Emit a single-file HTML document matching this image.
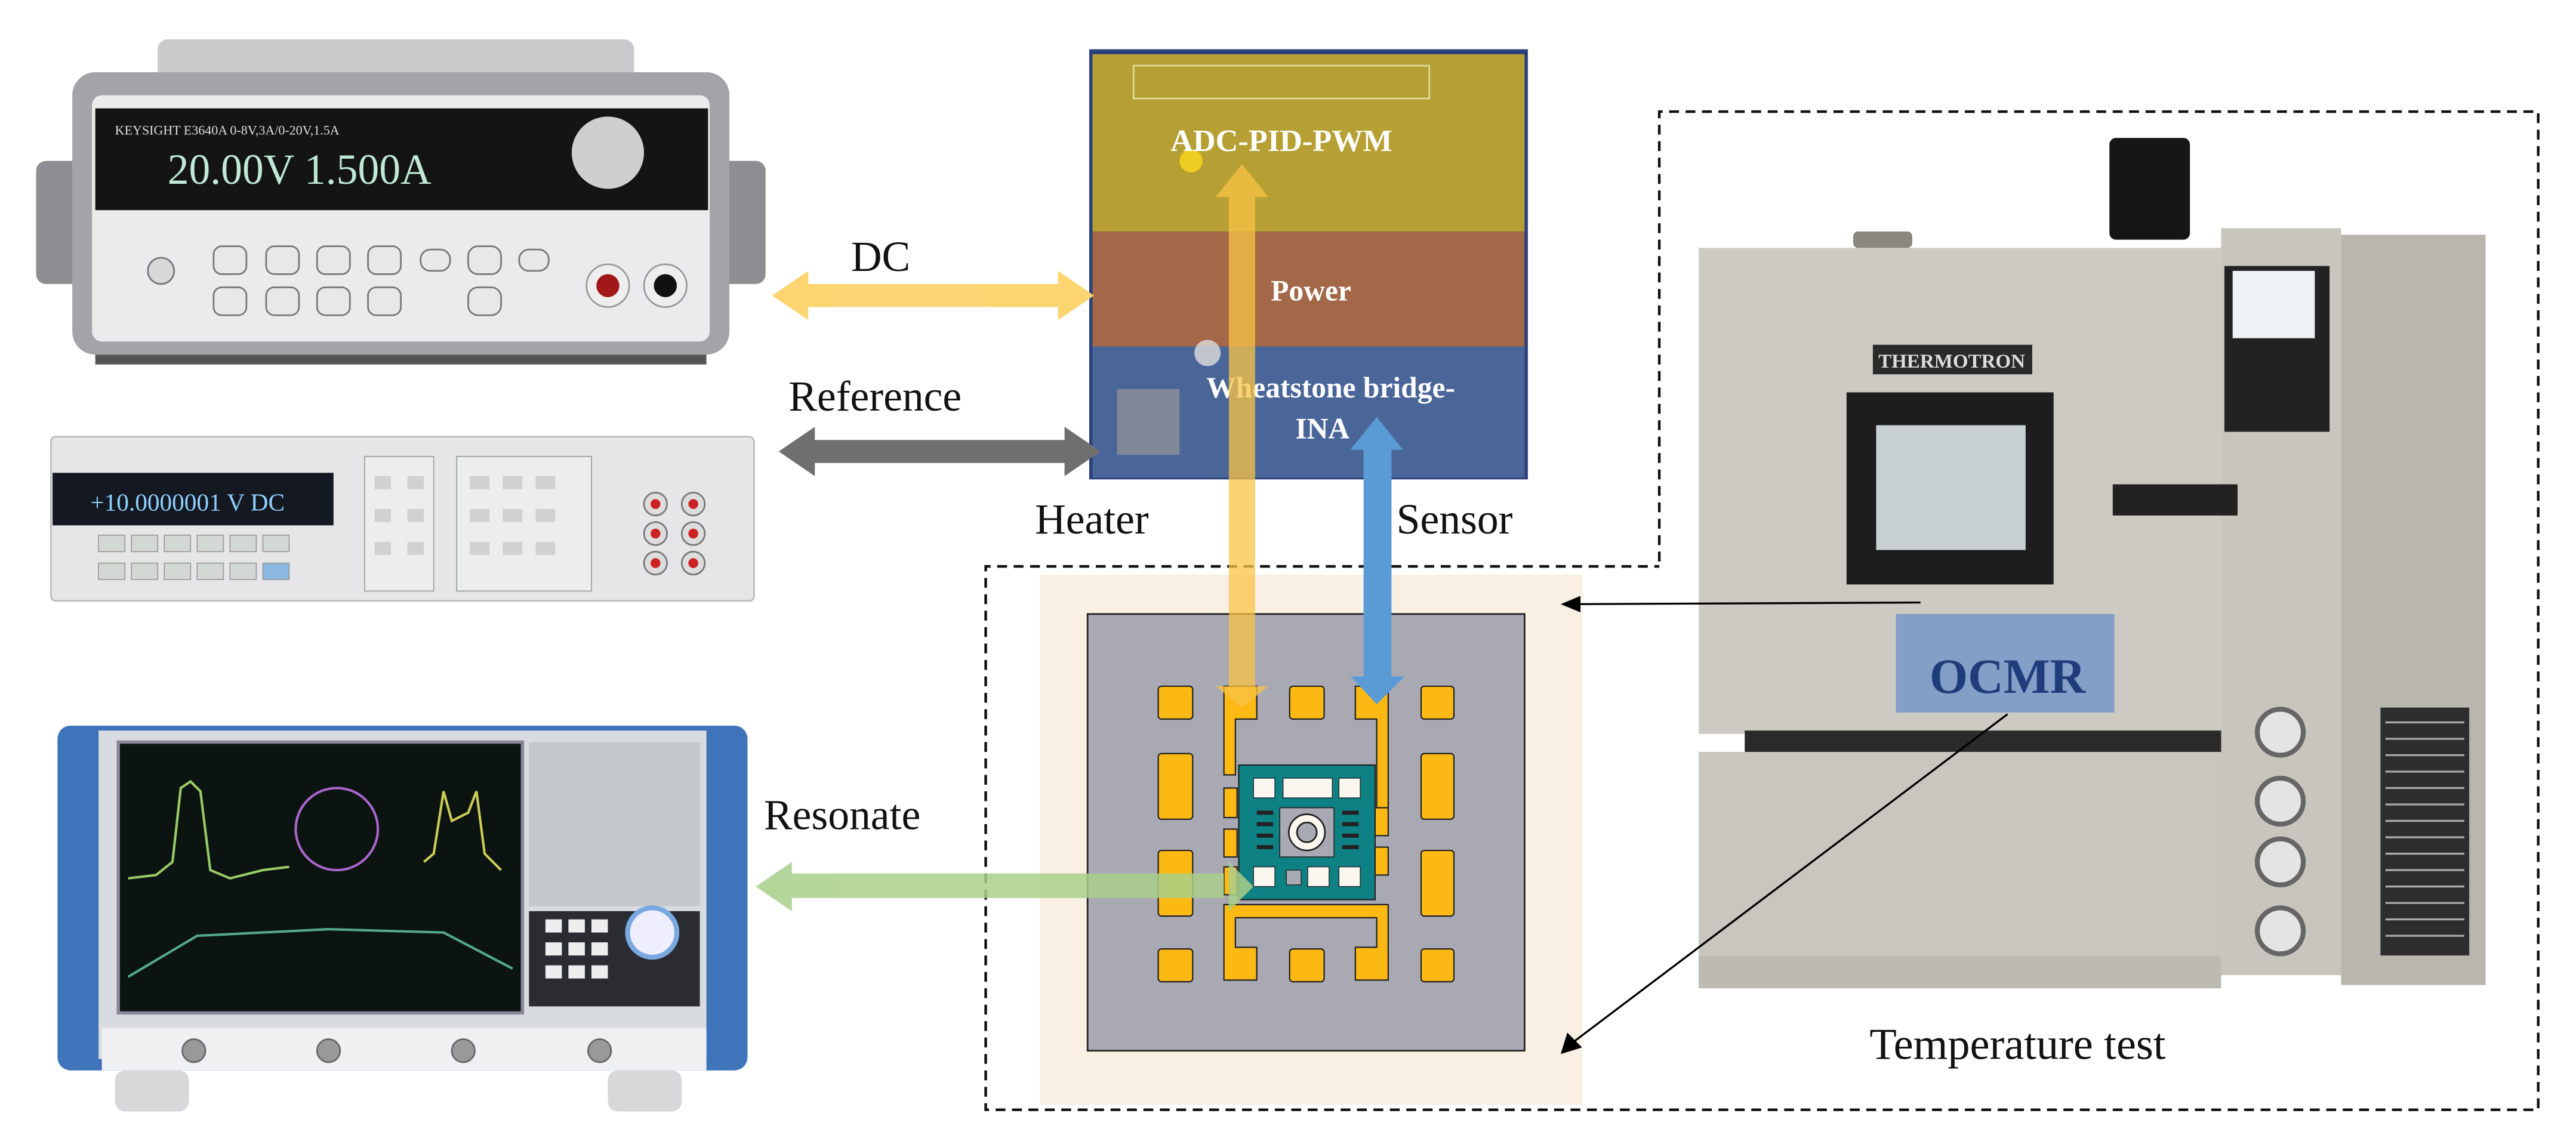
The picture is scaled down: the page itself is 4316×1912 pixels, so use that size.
<!DOCTYPE html>
<html><head><meta charset="utf-8"><style>
html,body{margin:0;padding:0;background:#fff;}
svg{display:block;}
text{font-family:"Liberation Serif",serif;}
</style></head><body>
<svg width="4316" height="1912" viewBox="0 0 1568 695" preserveAspectRatio="none" xmlns="http://www.w3.org/2000/svg">
<rect width="1568" height="695" fill="#fff"/>

<!-- Power supply -->
<rect x="22" y="98" width="30" height="75" rx="6" fill="#8e8e92"/>
<rect x="436" y="98" width="30" height="75" rx="6" fill="#8e8e92"/>
<rect x="96" y="24" width="290" height="28" rx="6" fill="#cacacc"/>
<rect x="44" y="44" width="400" height="172" rx="14" fill="#a4a4a8"/>
<rect x="56" y="58" width="376" height="150" rx="6" fill="#ebebed"/>
<rect x="58" y="66" width="373" height="62" fill="#141414"/>
<text x="70" y="82" font-size="8" fill="#ddd" font-family="Liberation Sans,sans-serif">KEYSIGHT   E3640A  0-8V,3A/0-20V,1.5A</text>
<text x="102" y="112" font-size="26" fill="#bfe8d8" font-family="Liberation Mono,monospace">20.00V 1.500A</text>
<circle cx="370" cy="93" r="22" fill="#cfcfd0"/>
<circle cx="98" cy="165" r="8" fill="#d8d8d8" stroke="#777"/>
<g fill="#e8e8ea" stroke="#777">
<rect x="130" y="150" width="20" height="17" rx="5"/><rect x="162" y="150" width="20" height="17" rx="5"/><rect x="193" y="150" width="20" height="17" rx="5"/><rect x="224" y="150" width="20" height="17" rx="5"/><rect x="256" y="152" width="18" height="13" rx="6"/><rect x="285" y="150" width="20" height="17" rx="6"/><rect x="316" y="152" width="18" height="13" rx="6"/>
<rect x="130" y="175" width="20" height="17" rx="5"/><rect x="162" y="175" width="20" height="17" rx="5"/><rect x="193" y="175" width="20" height="17" rx="5"/><rect x="224" y="175" width="20" height="17" rx="5"/><rect x="285" y="175" width="20" height="17" rx="6"/></g>
<circle cx="370" cy="174" r="13" fill="#eee" stroke="#999"/><circle cx="370" cy="174" r="7" fill="#a01818"/>
<circle cx="405" cy="174" r="13" fill="#eee" stroke="#999"/><circle cx="405" cy="174" r="7" fill="#111"/>
<rect x="58" y="216" width="372" height="6" fill="#555"/>

<!-- Multimeter -->
<rect x="31" y="266" width="428" height="100" rx="3" fill="#e6e6e8" stroke="#bbb"/>
<rect x="32" y="288" width="171" height="32" fill="#141820"/>
<text x="55" y="311" font-size="15" fill="#8fd0ff" font-family="Liberation Mono,monospace">+10.0000001 V DC</text>
<g fill="#d4d8d4" stroke="#999" stroke-width="0.6">
<rect x="60" y="326" width="16" height="10"/><rect x="80" y="326" width="16" height="10"/><rect x="100" y="326" width="16" height="10"/><rect x="120" y="326" width="16" height="10"/><rect x="140" y="326" width="16" height="10"/><rect x="160" y="326" width="16" height="10"/>
<rect x="60" y="343" width="16" height="10"/><rect x="80" y="343" width="16" height="10"/><rect x="100" y="343" width="16" height="10"/><rect x="120" y="343" width="16" height="10"/><rect x="140" y="343" width="16" height="10"/><rect x="160" y="343" width="16" height="10" fill="#8bb8e0"/>
<rect x="222" y="278" width="42" height="82" fill="#eceeec"/><rect x="278" y="278" width="82" height="82" fill="#eceeec"/></g>
<g fill="#cfd2cf"><rect x="228" y="290" width="10" height="8"/><rect x="248" y="290" width="10" height="8"/><rect x="228" y="310" width="10" height="8"/><rect x="248" y="310" width="10" height="8"/><rect x="228" y="330" width="10" height="8"/><rect x="248" y="330" width="10" height="8"/>
<rect x="286" y="290" width="12" height="8"/><rect x="306" y="290" width="12" height="8"/><rect x="326" y="290" width="12" height="8"/><rect x="286" y="310" width="12" height="8"/><rect x="306" y="310" width="12" height="8"/><rect x="326" y="310" width="12" height="8"/><rect x="286" y="330" width="12" height="8"/><rect x="306" y="330" width="12" height="8"/><rect x="326" y="330" width="12" height="8"/></g>
<g fill="#ddd" stroke="#777"><circle cx="399" cy="307" r="7"/><circle cx="422" cy="307" r="7"/><circle cx="399" cy="325" r="7"/><circle cx="422" cy="325" r="7"/><circle cx="399" cy="343" r="7"/><circle cx="422" cy="343" r="7"/></g>
<g fill="#c22"><circle cx="399" cy="307" r="3"/><circle cx="422" cy="307" r="3"/><circle cx="399" cy="325" r="3"/><circle cx="422" cy="325" r="3"/><circle cx="399" cy="343" r="3"/><circle cx="422" cy="343" r="3"/></g>

<!-- Network analyzer -->
<rect x="35" y="442" width="420" height="210" rx="8" fill="#3f74bb"/>
<rect x="60" y="445" width="370" height="200" fill="#d8dbe0"/>
<rect x="72" y="452" width="246" height="165" fill="#0c1411" stroke="#889" stroke-width="2"/>
<polyline points="78,535 95,533 105,525 110,480 116,476 122,482 128,530 140,535 160,530 176,528" stroke="#9c6" fill="none" stroke-width="1.5"/>
<polyline points="258,525 264,520 270,482 275,500 285,495 290,482 295,520 305,530" stroke="#cc5" fill="none" stroke-width="1.5"/>
<circle cx="205" cy="505" r="25" fill="none" stroke="#a6c" stroke-width="1.5"/>
<polyline points="78,595 120,570 200,566 270,568 312,590" stroke="#5a8" fill="none" stroke-width="1.5"/>
<rect x="322" y="452" width="104" height="100" fill="#c5c8cd"/>
<rect x="322" y="555" width="104" height="58" fill="#2a2c31"/>
<circle cx="397" cy="568" r="15" fill="#eef" stroke="#7aa8e0" stroke-width="3"/>
<g fill="#eee"><rect x="332" y="560" width="10" height="8"/><rect x="346" y="560" width="10" height="8"/><rect x="360" y="560" width="10" height="8"/><rect x="332" y="574" width="10" height="8"/><rect x="346" y="574" width="10" height="8"/><rect x="360" y="574" width="10" height="8"/><rect x="332" y="588" width="10" height="8"/><rect x="346" y="588" width="10" height="8"/><rect x="360" y="588" width="10" height="8"/></g>
<rect x="62" y="626" width="368" height="26" fill="#f0f0f2"/>
<g fill="#999" stroke="#666"><circle cx="118" cy="640" r="7"/><circle cx="200" cy="640" r="7"/><circle cx="282" cy="640" r="7"/><circle cx="365" cy="640" r="7"/></g>
<rect x="70" y="652" width="45" height="25" rx="6" fill="#d8d8da"/><rect x="370" y="652" width="45" height="25" rx="6" fill="#d8d8da"/>

<!-- PCB -->
<rect x="663" y="30" width="267" height="262" fill="#2b3f7a"/>
<rect x="665" y="33" width="263" height="108" fill="#b6a034"/>
<rect x="665" y="141" width="263" height="70" fill="#a26848"/>
<rect x="665" y="211" width="263" height="80" fill="#4a6699"/>
<rect x="690" y="40" width="180" height="20" fill="none" stroke="#dd9" stroke-width="1"/>
<rect x="680" y="237" width="38" height="40" fill="#999" opacity="0.7"/>
<circle cx="735" cy="215" r="8" fill="#ddd" opacity="0.8"/>
<circle cx="725" cy="98" r="7" fill="#ec2"/>
<text x="780" y="92" font-size="19" font-weight="bold" fill="#fff" text-anchor="middle">ADC-PID-PWM</text>
<text x="798" y="183" font-size="18" font-weight="bold" fill="#fff" text-anchor="middle">Power</text>
<text x="810" y="242" font-size="18" font-weight="bold" fill="#fff" text-anchor="middle">Wheatstone bridge-</text>
<text x="805" y="267" font-size="18" font-weight="bold" fill="#fff" text-anchor="middle">INA</text>

<!-- Dashed enclosure -->
<polyline points="1010,342 1010,68 1545,68 1545,676 600,676 600,345 1010,345" fill="none" stroke="#111" stroke-width="1.6" stroke-dasharray="6,4"/>

<!-- Beige & gray plate -->
<rect x="633" y="350" width="330" height="323" fill="#f9efe3"/>
<rect x="662" y="374" width="266" height="266" fill="#a9a9b4" stroke="#222" stroke-width="1"/>

<g fill="#fcb813" stroke="#222" stroke-width="0.8">
<path d="M745,418 h20 v20 h-13 v34 h-7 z"/>
<path d="M825,418 h20 v90 h-7 v-70 h-13 z"/>
<path d="M745,551 h100 v46 h-20 v-20 h13 v-18 h-86 v18 h13 v20 h-20 z"/>
<rect x="745" y="480" width="8" height="18"/><rect x="745" y="505" width="8" height="17"/><rect x="745" y="528" width="8" height="17"/>
<rect x="837" y="492" width="8" height="17"/><rect x="837" y="516" width="8" height="17"/>
<rect x="705" y="418" width="21" height="20" rx="2"/><rect x="785" y="418" width="21" height="20" rx="2"/><rect x="865" y="418" width="20" height="20" rx="2"/>
<rect x="705" y="459" width="21" height="40" rx="2"/><rect x="865" y="459" width="20" height="40" rx="2"/>
<rect x="705" y="518" width="21" height="40" rx="2"/><rect x="865" y="518" width="20" height="40" rx="2"/>
<rect x="705" y="578" width="21" height="20" rx="2"/><rect x="785" y="578" width="21" height="20" rx="2"/><rect x="865" y="578" width="20" height="20" rx="2"/>
</g>
<rect x="754" y="466" width="83" height="82" fill="#0e8185" stroke="#222" stroke-width="0.8"/>
<g fill="#fbf7ee" stroke="#222" stroke-width="0.5">
<rect x="763" y="474" width="13" height="12"/><rect x="781" y="474" width="30" height="12"/><rect x="815" y="474" width="13" height="12"/>
<rect x="763" y="528" width="13" height="12"/><rect x="796" y="528" width="13" height="12"/><rect x="815" y="528" width="13" height="12"/>
</g>
<rect x="779" y="492" width="33" height="30" fill="#a9a9b4" stroke="#222" stroke-width="0.6"/>
<circle cx="795.5" cy="507" r="11" fill="#fbf7ee" stroke="#222"/><circle cx="795.5" cy="507" r="6" fill="#a9a9b4" stroke="#222"/>
<rect x="783" y="530" width="9" height="9" fill="#a9a9b4" stroke="#222" stroke-width="0.5"/>
<g stroke="#222" stroke-width="2.5"><line x1="765" y1="495" x2="775" y2="495"/><line x1="765" y1="502" x2="775" y2="502"/><line x1="765" y1="509" x2="775" y2="509"/><line x1="765" y1="516" x2="775" y2="516"/>
<line x1="817" y1="495" x2="827" y2="495"/><line x1="817" y1="502" x2="827" y2="502"/><line x1="817" y1="509" x2="827" y2="509"/><line x1="817" y1="516" x2="827" y2="516"/></g>

<!-- Chamber -->
<rect x="1128" y="141" width="36" height="10" rx="3" fill="#8a8780"/>
<rect x="1284" y="84" width="49" height="62" rx="4" fill="#151515"/>
<rect x="1352" y="139" width="73" height="455" fill="#c8c5be"/>
<rect x="1425" y="143" width="88" height="457" fill="#b9b6af"/>
<rect x="1034" y="151" width="318" height="296" fill="#cdcac3"/>
<rect x="1062" y="445" width="290" height="13" fill="#2a2a2a"/>
<rect x="1034" y="458" width="318" height="124" fill="#c9c6bf"/>
<rect x="1034" y="582" width="318" height="20" fill="#bdbab3"/>
<rect x="1124" y="239" width="126" height="117" fill="#1d1d1d"/>
<rect x="1142" y="259" width="91" height="76" fill="#c8d0d3"/>
<rect x="1140" y="210" width="97" height="18" fill="#2a2a2a"/>
<text x="1188" y="224" font-size="12" font-weight="bold" fill="#ddd" text-anchor="middle" font-family="Liberation Sans,sans-serif">THERMOTRON</text>
<rect x="1354" y="162" width="64" height="101" fill="#222"/><rect x="1359" y="165" width="50" height="41" fill="#eef2f6"/>
<rect x="1286" y="295" width="76" height="19" fill="#222"/>
<g fill="#e4e4e4" stroke="#666" stroke-width="3"><circle cx="1388" cy="446" r="14"/><circle cx="1388" cy="488" r="14"/><circle cx="1388" cy="525" r="14"/><circle cx="1388" cy="567" r="14"/></g>
<rect x="1449" y="431" width="54" height="151" fill="#2d2d2d"/>
<g stroke="#aaa" stroke-width="1.2"><line x1="1452" y1="440" x2="1500" y2="440"/><line x1="1452" y1="450" x2="1500" y2="450"/><line x1="1452" y1="460" x2="1500" y2="460"/><line x1="1452" y1="470" x2="1500" y2="470"/><line x1="1452" y1="480" x2="1500" y2="480"/><line x1="1452" y1="490" x2="1500" y2="490"/><line x1="1452" y1="500" x2="1500" y2="500"/><line x1="1452" y1="510" x2="1500" y2="510"/><line x1="1452" y1="520" x2="1500" y2="520"/><line x1="1452" y1="530" x2="1500" y2="530"/><line x1="1452" y1="540" x2="1500" y2="540"/><line x1="1452" y1="550" x2="1500" y2="550"/><line x1="1452" y1="560" x2="1500" y2="560"/><line x1="1452" y1="570" x2="1500" y2="570"/></g>

<!-- OCMR -->
<rect x="1154" y="374" width="133" height="60" fill="#7d9ac8" opacity="0.92"/>
<text x="1222" y="422" font-size="30" font-weight="bold" fill="#1f3d7a" text-anchor="middle">OCMR</text>
<line x1="1169" y1="367" x2="958" y2="368" stroke="#000" stroke-width="1.2"/>
<polygon points="950,368 962,363 962,373" fill="#000"/>
<line x1="1222" y1="435" x2="956" y2="636" stroke="#000" stroke-width="1.2"/>
<polygon points="950,642 954,629 963,638" fill="#000"/>
<text x="1138" y="645" font-size="27" fill="#111">Temperature test</text>

<!-- Arrows -->
<g fill="#fcd36a" opacity="0.95">
<rect x="488" y="173" width="160" height="14"/>
<polygon points="470,180 492,165 492,195"/><polygon points="666,180 644,165 644,195"/></g>
<text x="518" y="165" font-size="26" fill="#111">DC</text>
<g fill="#6f6f6f">
<rect x="492" y="268" width="160" height="14"/>
<polygon points="474,275 496,260 496,290"/><polygon points="670,275 648,260 648,290"/></g>
<text x="480" y="250" font-size="26" fill="#111">Reference</text>
<text x="630" y="325" font-size="26" fill="#111">Heater</text>
<text x="850" y="325" font-size="26" fill="#111">Sensor</text>
<g fill="#f9c445" opacity="0.75">
<rect x="748" y="118" width="16" height="302"/>
<polygon points="756,100 740,120 772,120"/>
<polygon points="756,431 740,418 772,418"/></g>
<g fill="#5b9bd5">
<rect x="830" y="272" width="17" height="142"/>
<polygon points="838,254 822,274 854,274"/>
<polygon points="838,429 822,412 855,412"/></g>
<g fill="#a9cf8a" opacity="0.85">
<rect x="480" y="532" width="265" height="15"/>
<polygon points="460,540 482,525 482,555"/>
<polygon points="763,540 748,525 748,555"/></g>
<text x="465" y="505" font-size="26" fill="#111">Resonate</text>
</svg>
</body></html>
